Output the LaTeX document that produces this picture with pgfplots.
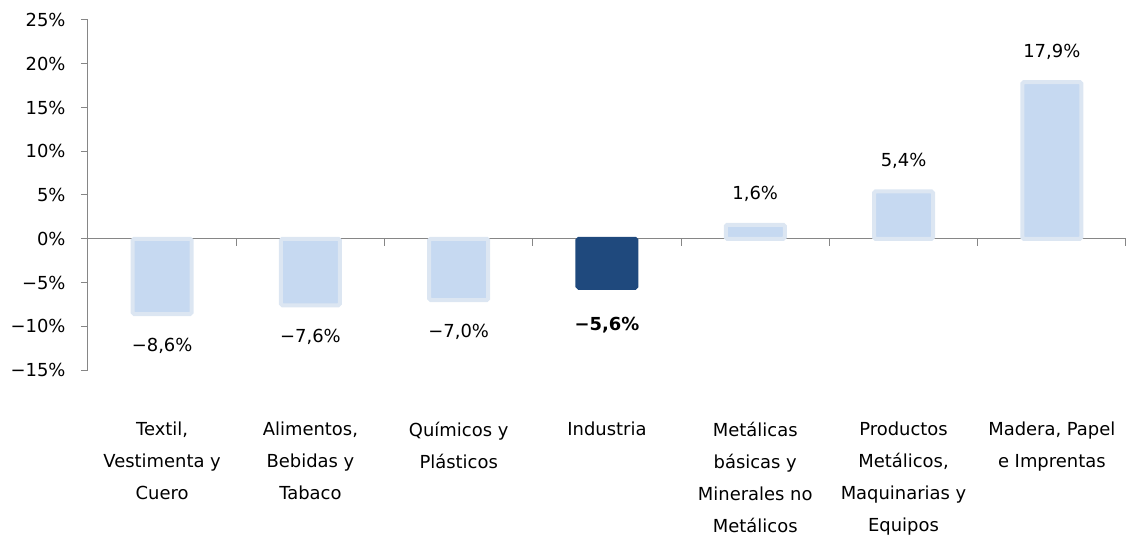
\documentclass[border=0pt]{standalone}
\usepackage{fontspec}
\setmainfont{DejaVu Sans}
\usepackage{pgfplots}
\pgfplotsset{compat=1.18}
\definecolor{barlight}{HTML}{C6D9F1}
\definecolor{barborder}{HTML}{DCE6F2}
\definecolor{bardark}{HTML}{1F497D}
\definecolor{axisgray}{HTML}{868686}
\begin{document}
\begin{tikzpicture}
\useasboundingbox (-88bp,-165bp) rectangle (1038bp,370bp);
\begin{axis}[
  scale only axis, width=1038bp, height=350bp,
  xmin=-0.5, xmax=6.5, ymin=-15, ymax=25,
  axis y line=left, axis x line=middle,
  axis line style={-, draw=axisgray, line width=1bp},
  every tick/.style={draw=axisgray, line width=1bp},
  tick align=outside,
  major tick length=7bp,
  ytick={-15,-10,...,25},
  yticklabels={−15\%,−10\%,−5\%,0\%,5\%,10\%,15\%,20\%,25\%},
  yticklabel style={font=\fontsize{18}{20}\selectfont, text=black, xshift=-12bp},
  xtick={-0.5,0.5,...,6.5},
  xticklabels={},
  extra x ticks={0,1,2,3,4,5,6},
  extra x tick labels={{Textil,\\Vestimenta y\\Cuero},{Alimentos,\\Bebidas y\\Tabaco},{Químicos y\\Plásticos},{Industria},{Metálicas\\básicas y\\Minerales no\\Metálicos},{Productos\\Metálicos,\\Maquinarias y\\Equipos},{Madera, Papel\\e Imprentas}},
  extra x tick style={major tick length=0pt, tick label style={anchor=north, align=center, font=\fontsize{18}{32}\selectfont, text=black, yshift=-180bp}},
  clip=false,
]
\addplot[ybar, bar width=59bp, bar shift=0pt, fill=barlight, draw=barborder, line width=4bp, rounded corners=1.5bp,
  nodes near coords, point meta=explicit symbolic,
  every node near coord/.append style={font=\fontsize{18}{20}\selectfont, text=black, anchor=north, inner ysep=22bp, text depth=0pt}]
  coordinates {(0,-8.6)[−8,6\%] (1,-7.6)[−7,6\%] (2,-7.0)[−7,0\%]};
\addplot[ybar, bar width=59bp, bar shift=0pt, fill=bardark, draw=bardark, line width=4bp, rounded corners=1.5bp,
  nodes near coords, point meta=explicit symbolic,
  every node near coord/.append style={font=\fontsize{18}{20}\selectfont\bfseries, text=black, anchor=north, inner ysep=27bp, text depth=0pt}]
  coordinates {(3,-5.6)[−5,6\%]};
\addplot[ybar, bar width=59bp, bar shift=0pt, fill=barlight, draw=barborder, line width=4bp, rounded corners=1.5bp,
  nodes near coords, point meta=explicit symbolic,
  every node near coord/.append style={font=\fontsize{18}{20}\selectfont, text=black, anchor=south, inner ysep=23bp, text depth=0pt}]
  coordinates {(4,1.6)[1,6\%] (5,5.4)[5,4\%] (6,17.9)[17,9\%]};
\end{axis}
\end{tikzpicture}
\end{document}
